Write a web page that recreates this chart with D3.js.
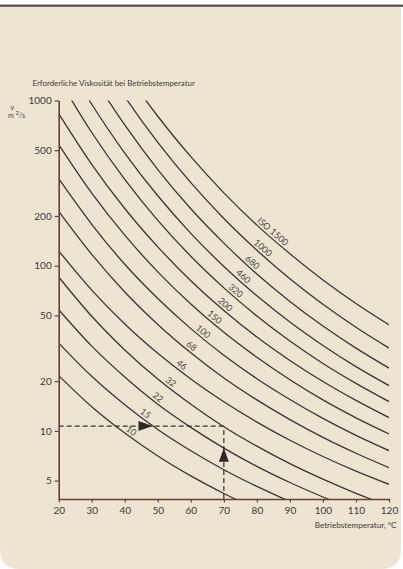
<!DOCTYPE html>
<html><head><meta charset="utf-8">
<script src="https://cdn.jsdelivr.net/npm/d3@7"></script>
<style>
html,body{margin:0;padding:0;background:#fff;}
svg{display:block;}
text{font-family:Lato,"Open Sans",sans-serif;}
</style></head><body>
<svg id="chart" width="403" height="569"></svg>
<script>
// ---------- data ----------
const temperatures = [20, 30, 40, 50, 60, 70, 80, 90, 100, 110, 120];
const xTickValues = [20, 30, 40, 50, 60, 70, 80, 90, 100, 110, 120];
const yTickValues = [5, 10, 20, 50, 100, 200, 500, 1000];
const gradeLabels = ["10", "15", "22", "32", "46", "68", "100", "150", "200", "320", "460", "680", "1000", "ISO 1500"];

const visc10   = [21.6, 14.0, 9.70, 7.05, 5.34, 4.18, 3.36, 2.77, 2.33, 1.99, 1.73];
const visc15   = [34.0, 21.4, 14.4, 10.2, 7.58, 5.82, 4.61, 3.74, 3.10, 2.62, 2.25];
const visc22   = [54.1, 32.6, 21.2, 14.5, 10.5, 7.87, 6.10, 4.87, 3.98, 3.31, 2.81];
const visc32   = [85.4, 49.4, 30.9, 20.6, 14.5, 10.6, 8.08, 6.33, 5.10, 4.19, 3.51];
const visc46   = [123, 71.2, 44.4, 29.5, 20.6, 15.0, 11.3, 8.78, 7.00, 5.71, 4.75];
const visc68   = [213, 117, 69.3, 44.1, 29.7, 20.9, 15.4, 11.7, 9.13, 7.32, 5.99];
const visc100  = [336, 178, 102, 63.3, 41.6, 28.7, 20.7, 15.5, 11.9, 9.40, 7.60];
const visc150  = [541, 275, 153, 91.8, 58.6, 39.5, 27.9, 20.4, 15.4, 12.0, 9.59];
const visc220  = [834, 411, 222, 130, 81.1, 53.5, 37.0, 26.7, 19.9, 15.3, 12.04];
const visc320  = [1357, 640, 333, 188, 114, 73.4, 49.6, 35.0, 25.6, 19.4, 15.05];
const visc460  = [2076, 949, 481, 265, 157, 99.0, 65.7, 45.6, 32.9, 24.5, 18.8];
const visc680  = [3244, 1440, 711, 382, 221, 137, 89.0, 60.7, 43.1, 31.7, 24.0];
const visc1000 = [4992, 2179, 1055, 558, 318, 193, 124, 83.3, 58.4, 42.4, 31.7];
const visc1500 = [7050, 3113, 1516, 803, 457, 276, 176, 118, 82.0, 59.1, 43.9];

const allSeries = [visc10, visc15, visc22, visc32, visc46, visc68, visc100, visc150,
                   visc220, visc320, visc460, visc680, visc1000, visc1500];
const labelTemps = [41.0, 45.3, 49.0, 52.9, 56.2, 59.1, 62.7, 66.1, 69.3, 72.5, 74.8, 77.5, 80.7, 83.7];

const refTemperature = 70;
const refViscosity = 10.7;
const arrowRightTemp = 48.4;
const arrowUpVisc = 7.85;

const chartTitle = "Erforderliche Viskosität bei Betriebstemperatur";
const xTitle = "Betriebstemperatur, °C";

// ---------- drawing ----------
const svg = d3.select("#chart");
const W = 403, H = 569;

// panel background
const r = 20, px0 = 0, px1 = 401, py0 = 7, py1 = 569;
svg.append("path")
  .attr("d", `M${px0},${py0}H${px1}V${py1 - r}Q${px1},${py1} ${px1 - r},${py1}H${px0 + r}Q${px0},${py1} ${px0},${py1 - r}Z`)
  .attr("fill", "#ede5d2");
svg.append("rect").attr("x", 0).attr("y", 4.6).attr("width", W).attr("height", 2.2).attr("fill", "#4f4b48");

const x = d3.scaleLinear().domain([20, 120]).range([58.7, 389]);
const y = d3.scaleLog().domain([3.87, 1000]).range([499, 100.5]);

svg.append("clipPath").attr("id", "plotclip")
  .append("rect").attr("x", x(20)).attr("y", y(1000)).attr("width", x(120) - x(20)).attr("height", y(3.87) - y(1000));

const axisColor = "#6e3d33";
const textColor = "#3c3a38";

// curves
const line = d3.line().x((d, i) => x(temperatures[i])).y(d => y(d)).curve(d3.curveMonotoneX);
const curves = svg.append("g").attr("clip-path", "url(#plotclip)");
allSeries.forEach(s => {
  curves.append("path").attr("d", line(s)).attr("fill", "none")
    .attr("stroke", "#3a3636").attr("stroke-width", 1.3);
});

// labels
allSeries.forEach((s, i) => {
  const T = labelTemps[i];
  let j = d3.bisectRight(temperatures, T) - 1;
  j = Math.max(0, Math.min(temperatures.length - 2, j));
  const x0 = x(temperatures[j]), x1 = x(temperatures[j + 1]);
  const y0 = y(s[j]), y1 = y(s[j + 1]);
  const t = (T - temperatures[j]) / (temperatures[j + 1] - temperatures[j]);
  const lx = x0 + (x1 - x0) * t, ly = y0 + (y1 - y0) * t;
  const ang = Math.atan2(y1 - y0, x1 - x0) * 180 / Math.PI;
  svg.append("text")
    .attr("transform", `translate(${lx},${ly}) rotate(${ang})`)
    .attr("text-anchor", "middle").attr("dy", -2.5)
    .attr("font-size", 9).attr("fill", "#4a4545")
    .text(gradeLabels[i]);
});

// reference dashed lines
svg.append("line")
  .attr("x1", x(20)).attr("x2", x(refTemperature))
  .attr("y1", y(refViscosity)).attr("y2", y(refViscosity))
  .attr("stroke", "#333").attr("stroke-width", 1.2).attr("stroke-dasharray", "5,3");
svg.append("line")
  .attr("x1", x(refTemperature)).attr("x2", x(refTemperature))
  .attr("y1", y(3.87)).attr("y2", y(refViscosity))
  .attr("stroke", "#333").attr("stroke-width", 1.2).attr("stroke-dasharray", "5,3");

// arrows
const ax = x(arrowRightTemp), ay = y(refViscosity);
svg.append("path").attr("d", `M${ax},${ay}L${ax - 14},${ay - 5}L${ax - 14},${ay + 5}Z`).attr("fill", "#2b2828");
const bx = x(refTemperature), by = y(arrowUpVisc);
svg.append("path").attr("d", `M${bx},${by}L${bx - 5},${by + 13.5}L${bx + 5},${by + 13.5}Z`).attr("fill", "#2b2828");

// axes
const xAxis = svg.append("g").attr("transform", `translate(0,${y(3.87)})`)
  .call(d3.axisBottom(x).tickValues(xTickValues).tickSize(3.5).tickSizeOuter(0).tickPadding(4).tickFormat(d3.format("d")));
const yAxis = svg.append("g").attr("transform", `translate(${x(20)},0)`)
  .call(d3.axisLeft(y).tickValues(yTickValues).tickSize(4).tickSizeOuter(0).tickPadding(3).tickFormat(d3.format("d")));
[xAxis, yAxis].forEach(g => {
  g.select(".domain").attr("stroke", axisColor).attr("stroke-width", 1.6);
  g.selectAll(".tick line").attr("stroke", axisColor).attr("stroke-width", 1.2);
  g.selectAll(".tick text").attr("fill", textColor).attr("font-size", 10).attr("font-family", "Lato, 'Open Sans', sans-serif");
});

// titles
svg.append("text").attr("x", 32.5).attr("y", 86).attr("font-size", 7.9).attr("fill", textColor).text(chartTitle);
svg.append("text").attr("x", 396.5).attr("y", 527.5).attr("text-anchor", "end").attr("font-size", 8.1).attr("fill", textColor).text(xTitle);
svg.append("text").attr("x", 12.3).attr("y", 109.5).attr("text-anchor", "middle").attr("font-size", 7).attr("fill", textColor).text("ν");
const unit = svg.append("text").attr("x", 8).attr("y", 118.3).attr("font-size", 7).attr("fill", textColor);
unit.append("tspan").text("m ");
unit.append("tspan").attr("dy", -3.5).attr("font-size", 6).text("2");
unit.append("tspan").attr("dy", 3.5).text("/s");
</script>
</body></html>
